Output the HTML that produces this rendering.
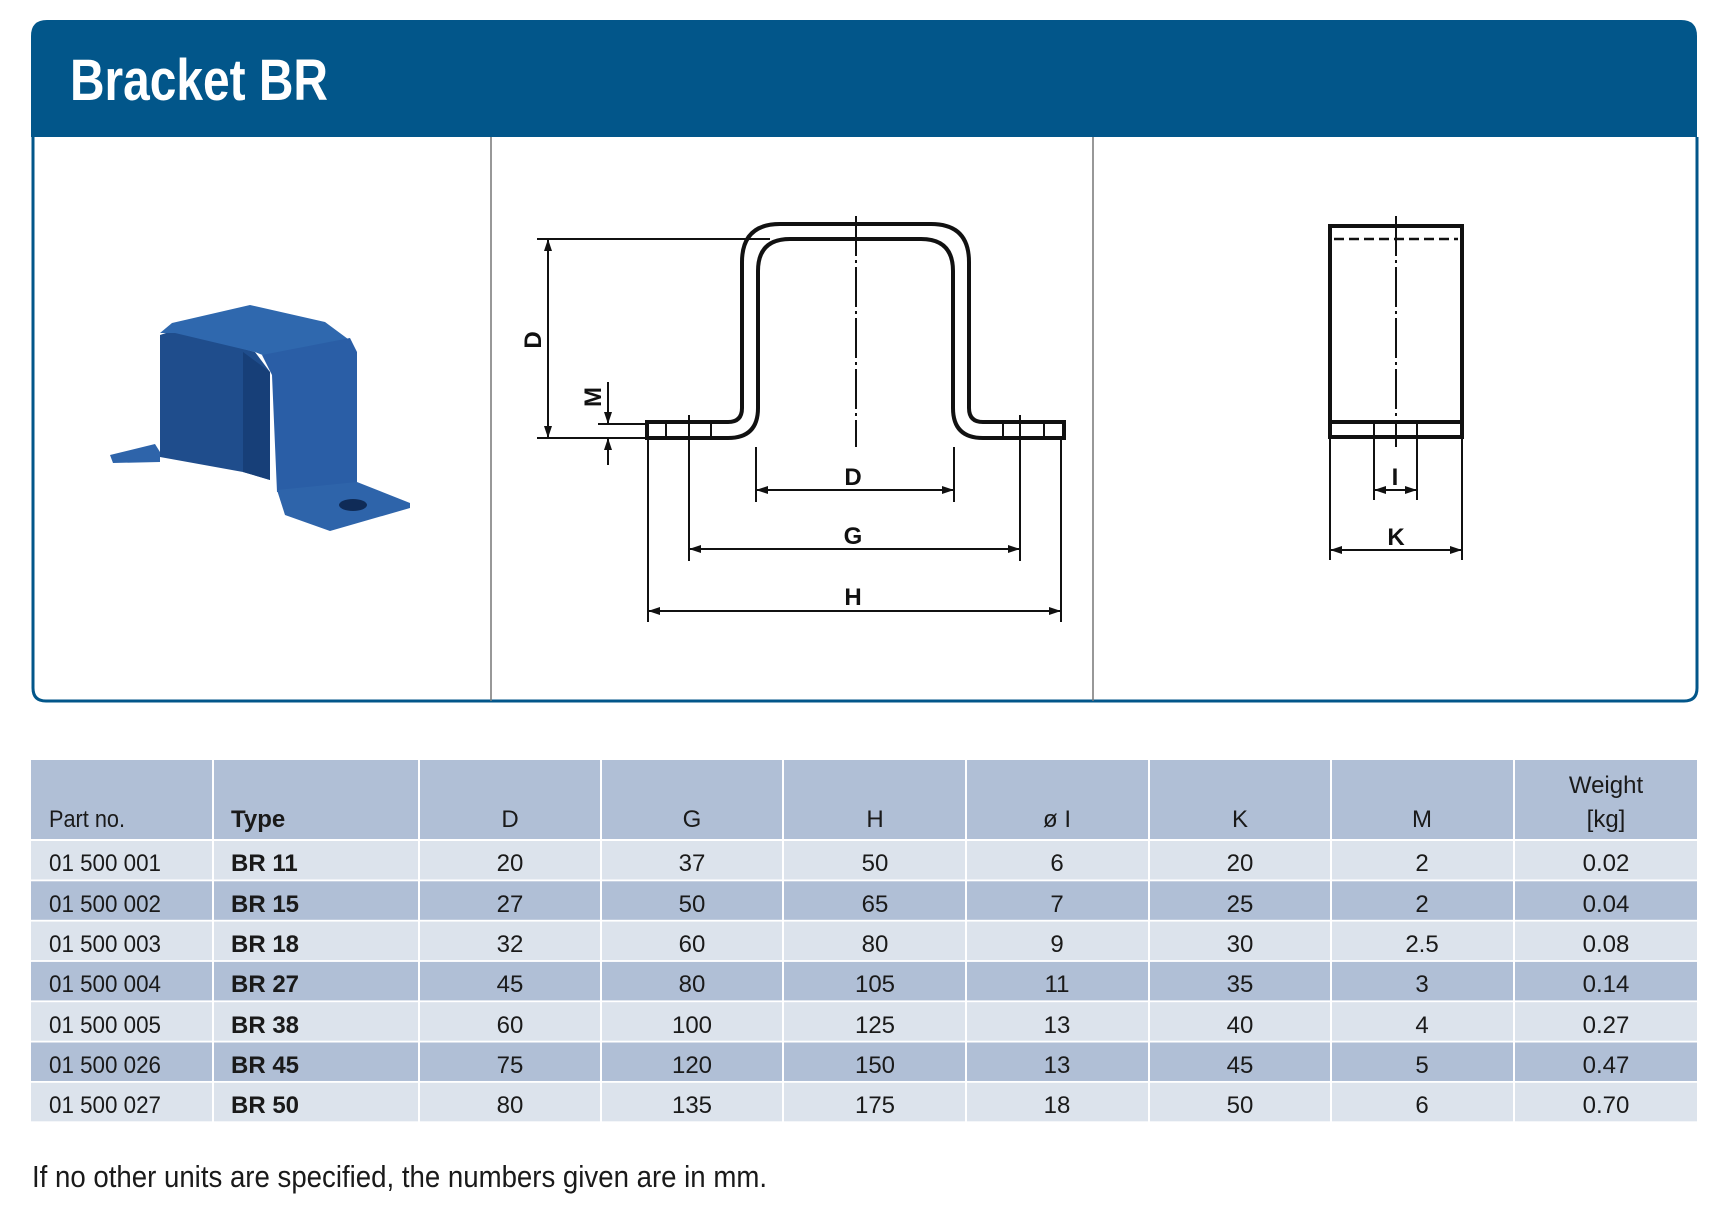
<!DOCTYPE html>
<html><head><meta charset="utf-8"><style>
html,body{margin:0;padding:0;background:#fff;}
svg{display:block;}
text{font-family:"Liberation Sans Narrow","Liberation Sans",sans-serif;}
.t{font-size:24px;fill:#1a1a1a;}
.b{font-weight:bold;}
.c{text-anchor:middle;}
.dl{font-family:"Liberation Sans",sans-serif;font-weight:bold;font-size:24px;fill:#111;text-anchor:middle;}
</style></head><body>
<svg width="1711" height="1210" viewBox="0 0 1711 1210" xmlns="http://www.w3.org/2000/svg">
<defs>
<marker id="a" viewBox="0 0 12 8" refX="12" refY="4" markerWidth="12" markerHeight="8" markerUnits="userSpaceOnUse" orient="auto-start-reverse"><path d="M0,0 L12,4 L0,8 z" fill="#111"/></marker>
</defs>
<!-- frame -->
<path d="M33,137 L33,688 Q33,701 46,701 L1684,701 Q1697,701 1697,688 L1697,137" fill="none" stroke="#02568a" stroke-width="3"/>
<path d="M31,137 L31,36 Q31,20 47,20 L1681,20 Q1697,20 1697,36 L1697,137 Z" fill="#02568a"/>
<text x="70" y="100" font-size="58" font-weight="bold" fill="#fff" textLength="258" lengthAdjust="spacingAndGlyphs">Bracket BR</text>
<line x1="491" y1="137" x2="491" y2="701" stroke="#777" stroke-width="1.5"/>
<line x1="1093" y1="137" x2="1093" y2="701" stroke="#777" stroke-width="1.5"/>

<!-- photo -->
<g>
<polygon points="110,455 155,444 160,452 160,462 113,463" fill="#2e64aa"/>
<polygon points="160,335 175,330 255,352 270,372 270,480 243,472 160,457" fill="#1f4d8c"/>
<polygon points="243,352 270,372 270,480 243,472" fill="#173f78"/>
<polygon points="160,333 172,323 250,305 325,322 352,342 270,358 255,352 175,333" fill="#2f68ae"/>
<polygon points="262,355 350,338 357,352 357,487 277,492 272,375" fill="#2a5ea6"/>
<polygon points="277,490 357,482 410,503 410,508 330,531 285,515" fill="#2e64aa"/>
<ellipse cx="353" cy="505" rx="14" ry="6" fill="#0f2b57"/>
</g>

<!-- front view -->
<g fill="none" stroke="#111" stroke-width="4" stroke-linejoin="round">
<path d="M647,422 L728,422 Q742,422 742,408 L742,262 Q742,224 780,224 L931,224 Q969,224 969,262 L969,408 Q969,422 983,422 L1064,422"/>
<path d="M647,438 L728,438 Q758,438 758,408 L758,271 Q758,239 790,239 L921,239 Q953,239 953,271 L953,408 Q953,438 983,438 L1064,438"/>
<line x1="647" y1="420" x2="647" y2="440"/>
<line x1="1064" y1="420" x2="1064" y2="440"/>
</g>
<g stroke="#111" stroke-width="2">
<line x1="666" y1="424" x2="666" y2="436"/><line x1="711" y1="424" x2="711" y2="436"/>
<line x1="1003" y1="424" x2="1003" y2="436"/><line x1="1044" y1="424" x2="1044" y2="436"/>
<line x1="856" y1="216" x2="856" y2="447" stroke-dasharray="40,4,3,4"/>
<line x1="537" y1="239" x2="770" y2="239"/>
<line x1="537" y1="438" x2="647" y2="438"/>
<line x1="548" y1="239" x2="548" y2="438" marker-start="url(#a)" marker-end="url(#a)"/>
<line x1="598" y1="424" x2="647" y2="424"/>
<line x1="608" y1="382" x2="608" y2="424" marker-end="url(#a)"/>
<line x1="608" y1="465" x2="608" y2="438" marker-end="url(#a)"/>
<line x1="756" y1="447" x2="756" y2="502"/><line x1="954" y1="447" x2="954" y2="502"/>
<line x1="756" y1="490" x2="954" y2="490" marker-start="url(#a)" marker-end="url(#a)"/>
<line x1="689" y1="415" x2="689" y2="561"/><line x1="1020" y1="415" x2="1020" y2="561"/>
<line x1="689" y1="549" x2="1020" y2="549" marker-start="url(#a)" marker-end="url(#a)"/>
<line x1="648" y1="440" x2="648" y2="622"/><line x1="1061" y1="440" x2="1061" y2="622"/>
<line x1="648" y1="611" x2="1061" y2="611" marker-start="url(#a)" marker-end="url(#a)"/>
</g>
<text class="dl" transform="translate(541,340) rotate(-90)">D</text>
<text class="dl" transform="translate(601,397) rotate(-90)">M</text>
<text class="dl" x="853" y="485">D</text>
<text class="dl" x="853" y="544">G</text>
<text class="dl" x="853" y="605">H</text>

<!-- side view -->
<g fill="none" stroke="#111" stroke-width="4">
<rect x="1330" y="226" width="132" height="211"/>
<line x1="1330" y1="422" x2="1462" y2="422"/>
</g>
<g stroke="#111" stroke-width="2">
<line x1="1334" y1="239" x2="1458" y2="239" stroke-width="2.5" stroke-dasharray="10,5"/>
<line x1="1396" y1="216" x2="1396" y2="447" stroke-dasharray="40,4,3,4"/>
<line x1="1374" y1="424" x2="1374" y2="500"/><line x1="1417" y1="424" x2="1417" y2="500"/>
<line x1="1374" y1="490" x2="1417" y2="490" marker-start="url(#a)" marker-end="url(#a)"/>
<line x1="1330" y1="439" x2="1330" y2="560"/><line x1="1462" y1="439" x2="1462" y2="560"/>
<line x1="1330" y1="550" x2="1462" y2="550" marker-start="url(#a)" marker-end="url(#a)"/>
</g>
<text class="dl" x="1395" y="485">I</text>
<text class="dl" x="1396" y="545">K</text>

<!-- table -->
<g>
<rect x="31" y="760" width="1666" height="79" fill="#b0bfd6"/>
<rect x="31" y="841" width="1666" height="38.5" fill="#dce3ec"/>
<rect x="31" y="881.3" width="1666" height="38.5" fill="#b0bfd6"/>
<rect x="31" y="921.6" width="1666" height="38.5" fill="#dce3ec"/>
<rect x="31" y="961.9" width="1666" height="38.5" fill="#b0bfd6"/>
<rect x="31" y="1002.2" width="1666" height="38.5" fill="#dce3ec"/>
<rect x="31" y="1042.5" width="1666" height="38.5" fill="#b0bfd6"/>
<rect x="31" y="1082.8" width="1666" height="38.5" fill="#dce3ec"/>
<g stroke="#fff" stroke-width="2">
<line x1="213" y1="760" x2="213" y2="1122"/><line x1="419" y1="760" x2="419" y2="1122"/>
<line x1="601" y1="760" x2="601" y2="1122"/><line x1="783" y1="760" x2="783" y2="1122"/>
<line x1="966" y1="760" x2="966" y2="1122"/><line x1="1149" y1="760" x2="1149" y2="1122"/>
<line x1="1331" y1="760" x2="1331" y2="1122"/><line x1="1514" y1="760" x2="1514" y2="1122"/>
</g>
<g class="t">
<text x="49" y="827" textLength="76" lengthAdjust="spacingAndGlyphs">Part no.</text>
<text x="231" y="827" class="b">Type</text>
<text x="510" y="827" class="c">D</text>
<text x="692" y="827" class="c">G</text>
<text x="875" y="827" class="c">H</text>
<text x="1057" y="827" class="c">ø I</text>
<text x="1240" y="827" class="c">K</text>
<text x="1422" y="827" class="c">M</text>
<text x="1606" y="793" class="c">Weight</text>
<text x="1606" y="827" class="c">[kg]</text>
</g>
<g class="t">
<text x="49" y="871" textLength="112" lengthAdjust="spacingAndGlyphs">01 500 001</text>
<text x="49" y="912" textLength="112" lengthAdjust="spacingAndGlyphs">01 500 002</text>
<text x="49" y="952" textLength="112" lengthAdjust="spacingAndGlyphs">01 500 003</text>
<text x="49" y="992" textLength="112" lengthAdjust="spacingAndGlyphs">01 500 004</text>
<text x="49" y="1033" textLength="112" lengthAdjust="spacingAndGlyphs">01 500 005</text>
<text x="49" y="1073" textLength="112" lengthAdjust="spacingAndGlyphs">01 500 026</text>
<text x="49" y="1113" textLength="112" lengthAdjust="spacingAndGlyphs">01 500 027</text>
<g class="b">
<text x="231" y="871">BR 11</text><text x="231" y="912">BR 15</text><text x="231" y="952">BR 18</text>
<text x="231" y="992">BR 27</text><text x="231" y="1033">BR 38</text><text x="231" y="1073">BR 45</text><text x="231" y="1113">BR 50</text>
</g>
<g class="c">
<text x="510" y="871">20</text><text x="692" y="871">37</text><text x="875" y="871">50</text><text x="1057" y="871">6</text><text x="1240" y="871">20</text><text x="1422" y="871">2</text><text x="1606" y="871">0.02</text>
<text x="510" y="912">27</text><text x="692" y="912">50</text><text x="875" y="912">65</text><text x="1057" y="912">7</text><text x="1240" y="912">25</text><text x="1422" y="912">2</text><text x="1606" y="912">0.04</text>
<text x="510" y="952">32</text><text x="692" y="952">60</text><text x="875" y="952">80</text><text x="1057" y="952">9</text><text x="1240" y="952">30</text><text x="1422" y="952">2.5</text><text x="1606" y="952">0.08</text>
<text x="510" y="992">45</text><text x="692" y="992">80</text><text x="875" y="992">105</text><text x="1057" y="992">11</text><text x="1240" y="992">35</text><text x="1422" y="992">3</text><text x="1606" y="992">0.14</text>
<text x="510" y="1033">60</text><text x="692" y="1033">100</text><text x="875" y="1033">125</text><text x="1057" y="1033">13</text><text x="1240" y="1033">40</text><text x="1422" y="1033">4</text><text x="1606" y="1033">0.27</text>
<text x="510" y="1073">75</text><text x="692" y="1073">120</text><text x="875" y="1073">150</text><text x="1057" y="1073">13</text><text x="1240" y="1073">45</text><text x="1422" y="1073">5</text><text x="1606" y="1073">0.47</text>
<text x="510" y="1113">80</text><text x="692" y="1113">135</text><text x="875" y="1113">175</text><text x="1057" y="1113">18</text><text x="1240" y="1113">50</text><text x="1422" y="1113">6</text><text x="1606" y="1113">0.70</text>
</g>
</g>
</g>
<text x="32" y="1187" font-size="31" fill="#1a1a1a" textLength="735" lengthAdjust="spacingAndGlyphs">If no other units are specified, the numbers given are in mm.</text>
</svg>
</body></html>
